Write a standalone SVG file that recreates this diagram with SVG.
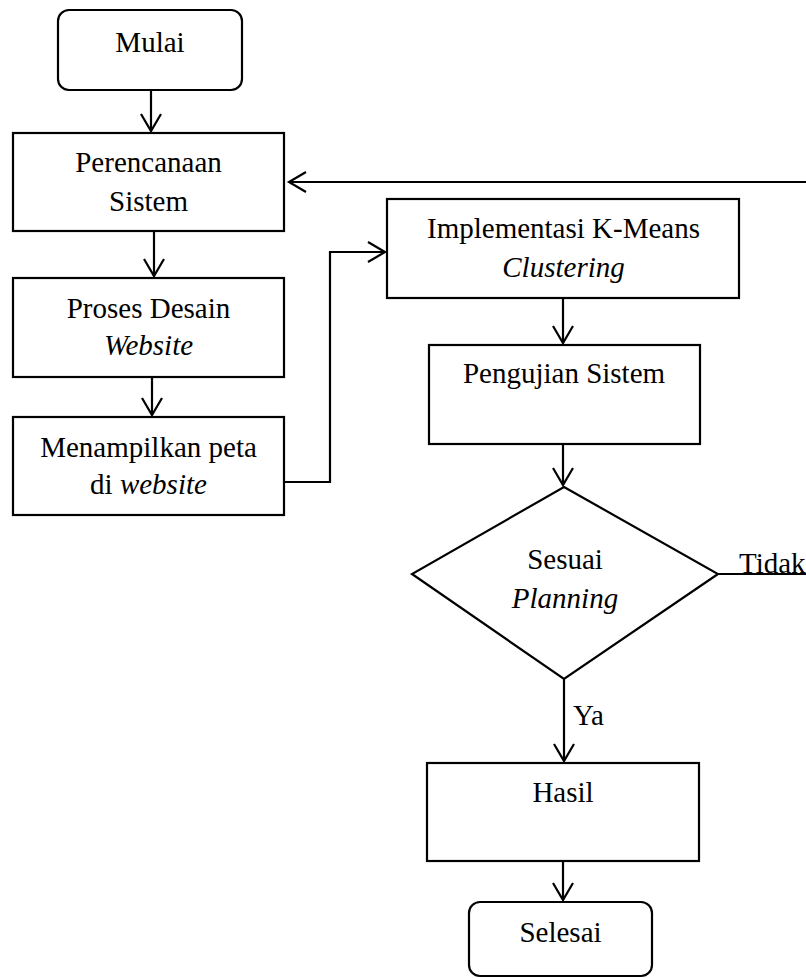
<svg xmlns="http://www.w3.org/2000/svg" width="806" height="978" viewBox="0 0 806 978">
<style>
.box{fill:#fff;stroke:#000;stroke-width:2.2}
.ln{fill:none;stroke:#000;stroke-width:2.2}
text{font-family:'Liberation Serif','Times New Roman',Times,'DejaVu Serif',serif;font-size:29px;fill:#000}
.c{text-anchor:middle}
.i{font-style:italic}
</style>
<defs>
<marker id="arr" markerUnits="userSpaceOnUse" markerWidth="24" markerHeight="24" refX="18" refY="12" orient="auto" overflow="visible">
<path d="M1,2 L18,12 L1,22" fill="none" stroke="#000" stroke-width="2.2"/>
</marker>
</defs>
<g id="connectors">
<path class="ln" d="M151,90 V131" marker-end="url(#arr)"/>
<path class="ln" d="M154,231 V276" marker-end="url(#arr)"/>
<path class="ln" d="M152,377 V415" marker-end="url(#arr)"/>
<path class="ln" d="M284,482 H330 V252 H385" marker-end="url(#arr)"/>
<path class="ln" d="M563,298 V343" marker-end="url(#arr)"/>
<path class="ln" d="M563,444 V485" marker-end="url(#arr)"/>
<path class="ln" d="M564,679 V761" marker-end="url(#arr)"/>
<path class="ln" d="M563,861 V900" marker-end="url(#arr)"/>
<path class="ln" d="M718,574 H830 V182 H289" marker-end="url(#arr)"/>
<text x="739" y="573" font-family="Liberation Serif, serif">Tidak</text>
<text x="573" y="725" font-family="Liberation Serif, serif">Ya</text>
</g>
<g id="mulai">
<rect class="box" x="58" y="10" width="184" height="80" rx="11"/>
<text class="c" x="150" y="52" font-family="Liberation Serif, serif">Mulai</text>
</g>
<g id="perencanaan">
<rect class="box" x="13" y="133" width="271" height="98"/>
<text class="c" x="148.5" y="172" font-family="Liberation Serif, serif">Perencanaan</text>
<text class="c" x="148.5" y="211" font-family="Liberation Serif, serif">Sistem</text>
</g>
<g id="desain">
<rect class="box" x="13" y="278" width="271" height="99"/>
<text class="c" x="148.5" y="318" font-family="Liberation Serif, serif">Proses Desain</text>
<text class="c i" x="148.5" y="355" font-family="Liberation Serif, serif">Website</text>
</g>
<g id="peta">
<rect class="box" x="13" y="417" width="271" height="98"/>
<text class="c" x="148.5" y="457" font-family="Liberation Serif, serif">Menampilkan peta</text>
<text class="c" x="148.5" y="494" font-family="Liberation Serif, serif">di <tspan class="i">website</tspan></text>
</g>
<g id="kmeans">
<rect class="box" x="387" y="199" width="352" height="99"/>
<text class="c" x="563.5" y="238" font-family="Liberation Serif, serif">Implementasi K-Means</text>
<text class="c i" x="563.5" y="277" font-family="Liberation Serif, serif">Clustering</text>
</g>
<g id="pengujian">
<rect class="box" x="429" y="345" width="271" height="99"/>
<text class="c" x="564" y="383" font-family="Liberation Serif, serif">Pengujian Sistem</text>
</g>
<g id="sesuai">
<polygon class="box" points="564,487 718,574 564,679 412,574"/>
<text class="c" x="565" y="569" font-family="Liberation Serif, serif">Sesuai</text>
<text class="c i" x="565" y="608" font-family="Liberation Serif, serif">Planning</text>
</g>
<g id="hasil">
<rect class="box" x="427" y="763" width="272" height="98"/>
<text class="c" x="563" y="802" font-family="Liberation Serif, serif">Hasil</text>
</g>
<g id="selesai">
<rect class="box" x="469" y="902" width="183" height="74" rx="11"/>
<text class="c" x="560.5" y="942" font-family="Liberation Serif, serif">Selesai</text>
</g>
</svg>
